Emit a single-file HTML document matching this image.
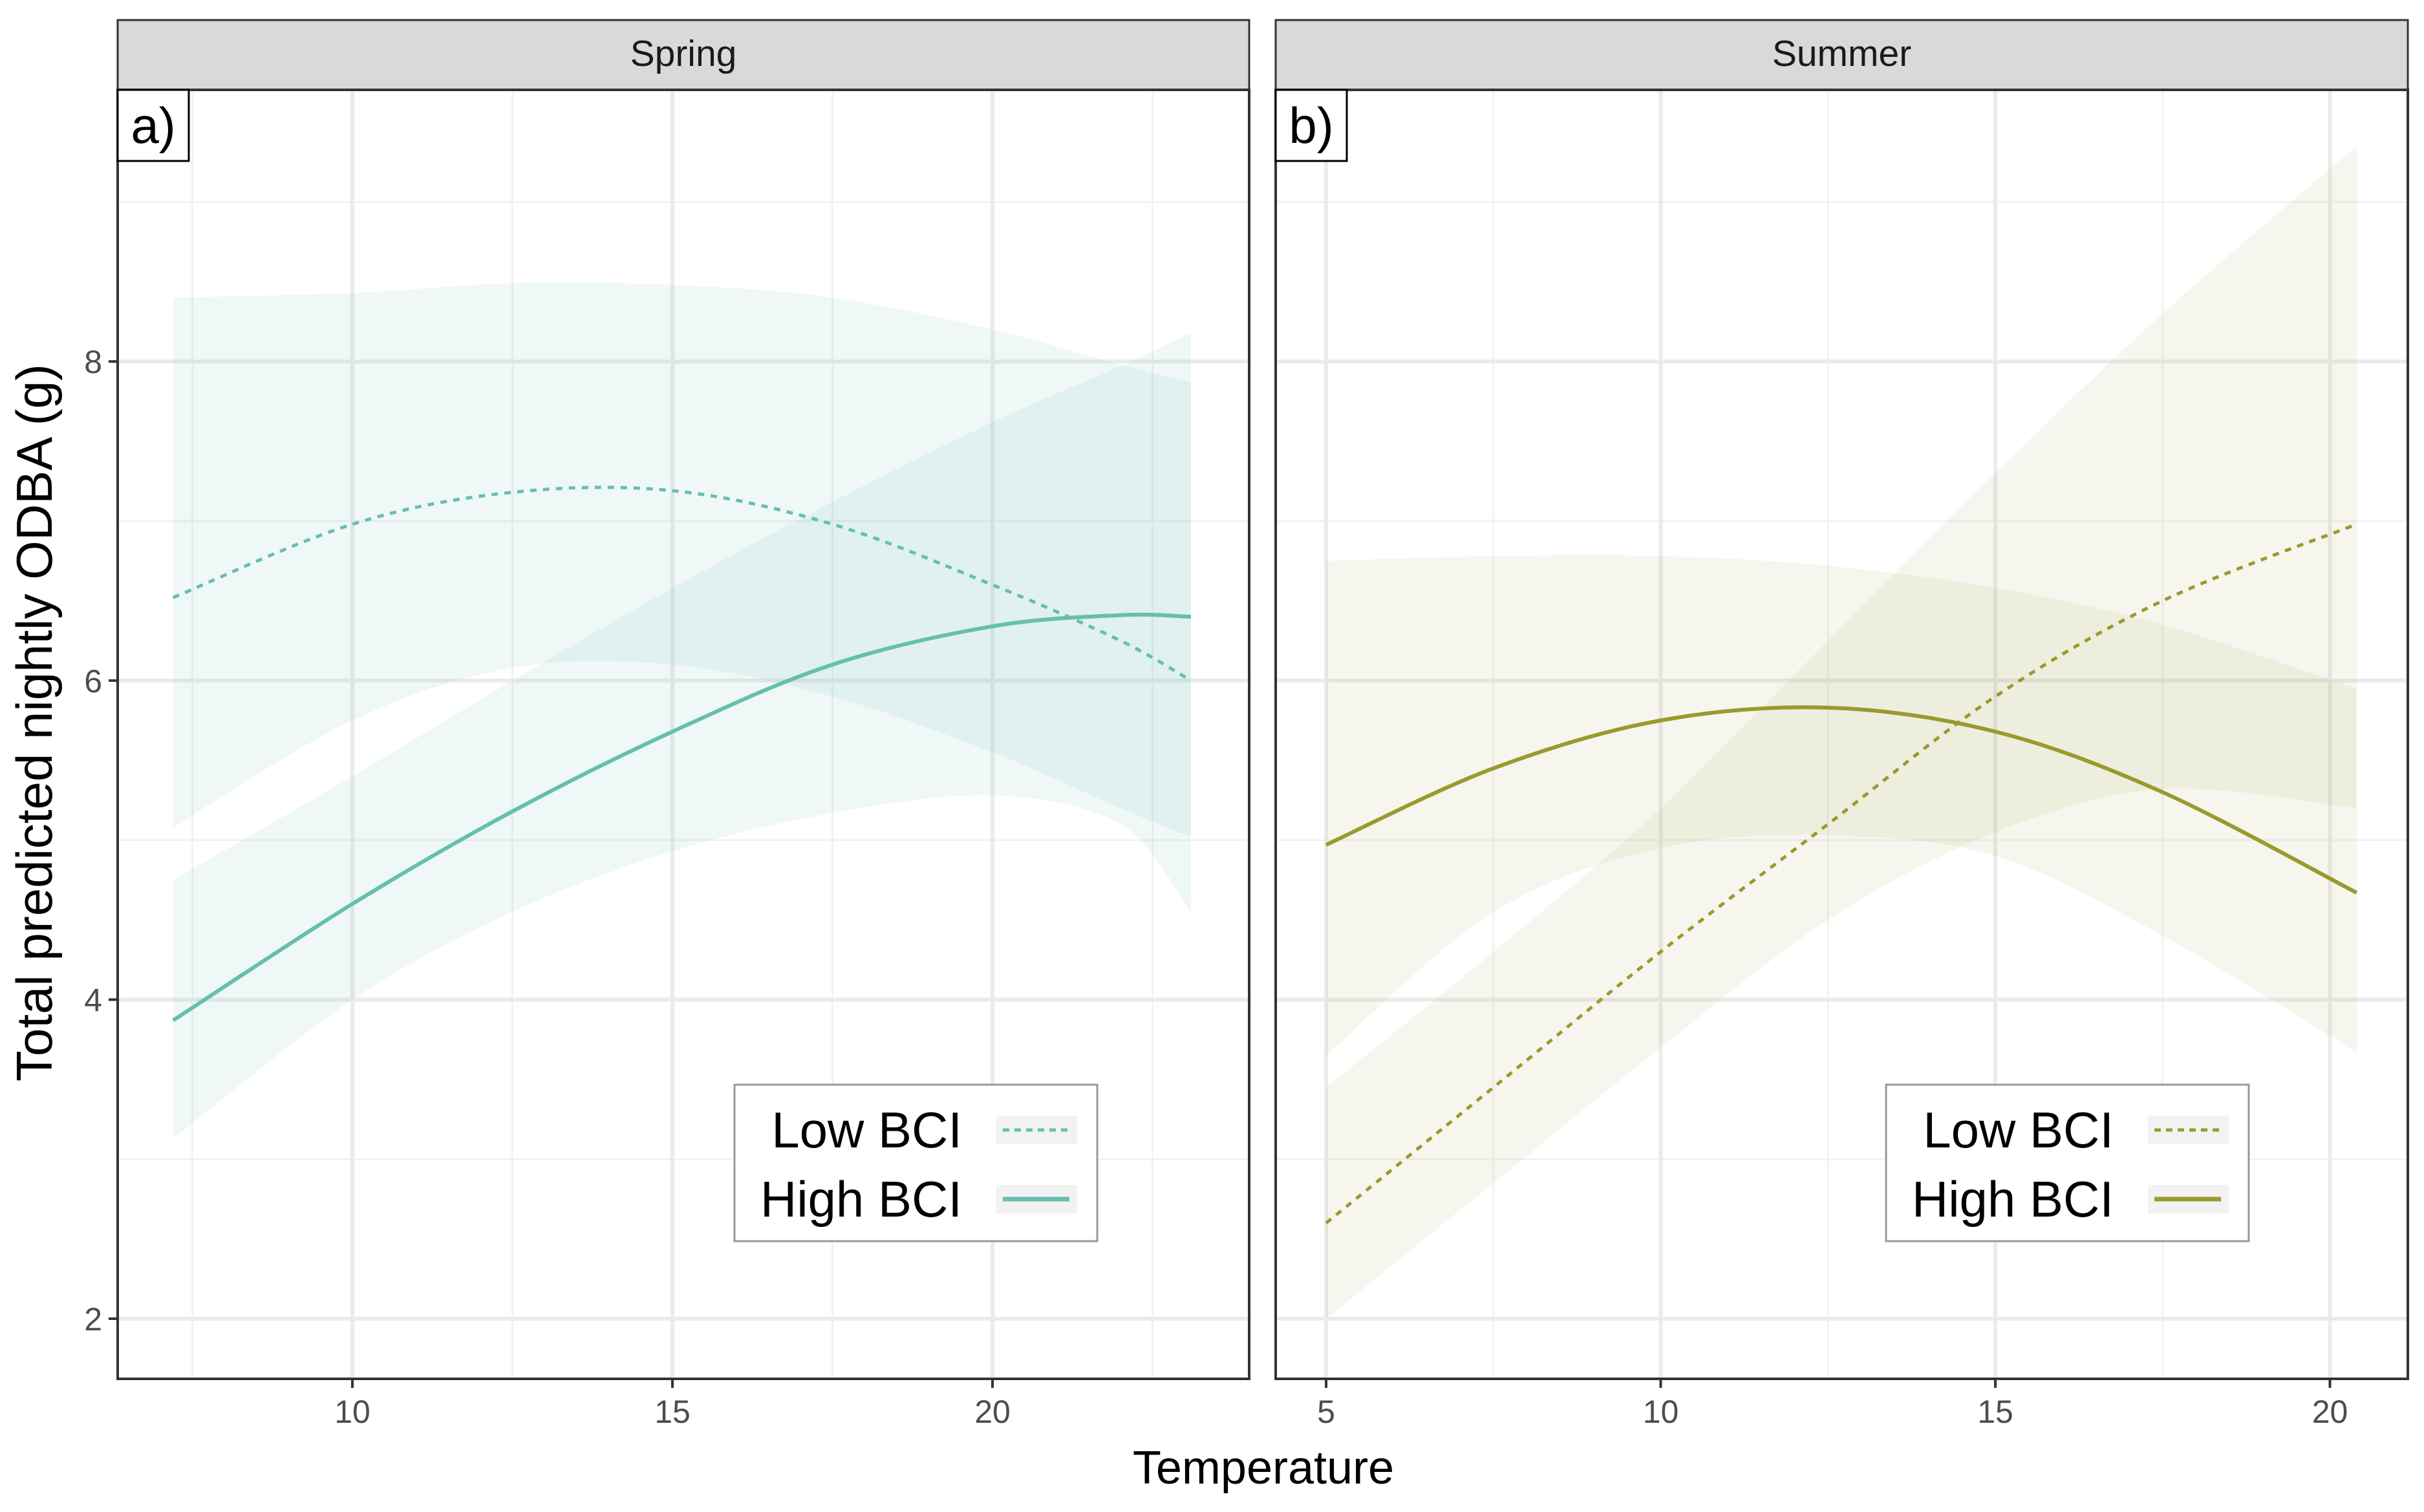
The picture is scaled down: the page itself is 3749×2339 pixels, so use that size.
<!DOCTYPE html>
<html><head><meta charset="utf-8"><style>
html,body{margin:0;padding:0;background:#fff;}
svg{display:block;font-family:"Liberation Sans",Arial,sans-serif;}
</style></head><body>
<svg id="chart" width="3749" height="2339" viewBox="0 0 3749 2339" xmlns="http://www.w3.org/2000/svg"></svg>
<script>
// ---- data ----
const yTicks = [2, 4, 6, 8];
const yMinor = [3, 5, 7, 9];
const springXTicks = [10, 15, 20];
const springXMinor = [7.5, 12.5, 17.5, 22.5];
const summerXTicks = [5, 10, 15, 20];
const summerXMinor = [7.5, 12.5, 17.5];

const springX = [7.2, 10, 12.5, 15, 17.5, 20, 22, 23.1];
const springLow = [6.52, 6.98, 7.18, 7.19, 6.98, 6.6, 6.25, 6.0];
const springLowUpper = [8.4, 8.43, 8.49, 8.48, 8.4, 8.2, 7.98, 7.87];
const springLowLower = [5.08, 5.75, 6.08, 6.1, 5.9, 5.55, 5.2, 5.02];
const springHigh = [3.87, 4.6, 5.18, 5.68, 6.1, 6.34, 6.41, 6.4];
const springHighUpper = [4.75, 5.4, 6.0, 6.58, 7.12, 7.62, 7.97, 8.18];
const springHighLower = [3.13, 4.0, 4.55, 4.93, 5.17, 5.28, 5.1, 4.55];

const summerX = [5, 7.5, 10, 12.5, 15, 17.5, 20.4];
const summerLow = [2.6, 3.45, 4.3, 5.1, 5.9, 6.5, 6.98];
const summerLowUpper = [3.45, 4.3, 5.2, 6.25, 7.3, 8.3, 9.35];
const summerLowLower = [2.0, 2.85, 3.7, 4.5, 5.05, 5.32, 5.2];
const summerHigh = [4.97, 5.45, 5.75, 5.83, 5.68, 5.3, 4.67];
const summerHighUpper = [6.75, 6.78, 6.78, 6.72, 6.58, 6.35, 5.95];
const summerHighLower = [3.65, 4.55, 4.95, 5.03, 4.9, 4.4, 3.67];

// ---- layout ----
const NS = "http://www.w3.org/2000/svg";
const svg = document.getElementById('chart');
function el(tag, attrs, parent){const e=document.createElementNS(NS,tag);for(const k in attrs)e.setAttribute(k,attrs[k]);(parent||svg).appendChild(e);return e;}
const plotTop = 139, plotBottom = 2133;
const yScale = v => 2040 - (v - 2) * 246.8;
const panels = [
  {key:'spring', left:182, right:1932, x0:10, px0:545, ppu:99.0, title:'Spring', tag:'a)', ticks:springXTicks, minor:springXMinor,
   color:'#66bfae', fill:'#66bfae', xs:springX,
   low:springLow, lowU:springLowUpper, lowL:springLowLower, high:springHigh, highU:springHighUpper, highL:springHighLower, legend:[1136,1678]},
  {key:'summer', left:1973, right:3724, x0:5, px0:2051, ppu:103.5, title:'Summer', tag:'b)', ticks:summerXTicks, minor:summerXMinor,
   color:'#9a9a2e', fill:'#a8a85a', xs:summerX,
   low:summerLow, lowU:summerLowUpper, lowL:summerLowLower, high:summerHigh, highU:summerHighUpper, highL:summerHighLower, legend:[2917,1678]}
];
function smooth(pts){ // catmull-rom
  let d='M'+pts[0][0]+','+pts[0][1];
  for(let i=0;i<pts.length-1;i++){
    const p0=pts[Math.max(0,i-1)],p1=pts[i],p2=pts[i+1],p3=pts[Math.min(pts.length-1,i+2)];
    const c1=[p1[0]+(p2[0]-p0[0])/6,p1[1]+(p2[1]-p0[1])/6];
    const c2=[p2[0]-(p3[0]-p1[0])/6,p2[1]-(p3[1]-p1[1])/6];
    d+=' C'+c1[0]+','+c1[1]+' '+c2[0]+','+c2[1]+' '+p2[0]+','+p2[1];
  }
  return d;
}
function smoothRev(pts){return smooth(pts).replace(/^M/,'L');}

panels.forEach(p=>{
  const xs = v => p.px0 + (v - p.x0) * p.ppu;
  const g = el('g',{});
  
  
  const strip = el('rect',{x:p.left,y:31,width:p.right-p.left,height:plotTop-31,fill:'#d9d9d9',stroke:'#333','stroke-width':3},g);
  
  
  const st = el('text',{x:(p.left+p.right)/2,y:102,'font-size':57,'text-anchor':'middle',fill:'#1a1a1a'},g);
  st.textContent=p.title;
  
  
  const clip = el('clipPath',{id:'clip-'+p.key},g);
  el('rect',{x:p.left,y:plotTop,width:p.right-p.left,height:plotBottom-plotTop},clip);
  yMinor.forEach(v=>{el('line',{x1:p.left,x2:p.right,y1:yScale(v),y2:yScale(v),stroke:'#f2f2f2','stroke-width':3},g);});
  p.minor.forEach(v=>{el('line',{x1:xs(v),x2:xs(v),y1:plotTop,y2:plotBottom,stroke:'#f2f2f2','stroke-width':3},g);});
  yTicks.forEach(v=>{el('line',{x1:p.left,x2:p.right,y1:yScale(v),y2:yScale(v),stroke:'#ebebeb','stroke-width':6},g);});
  p.ticks.forEach(v=>{el('line',{x1:xs(v),x2:xs(v),y1:plotTop,y2:plotBottom,stroke:'#ebebeb','stroke-width':6},g);});
  const dg = el('g',{'clip-path':'url(#clip-'+p.key+')'},g);
  [['low',p.lowU,p.lowL],['high',p.highU,p.highL]].forEach(([nm,u,l])=>{
    const up = p.xs.map((x,i)=>[xs(x),yScale(u[i])]);
    const lo = p.xs.map((x,i)=>[xs(x),yScale(l[i])]).reverse();
    const r = el('path',{d:smooth(up)+' '+smoothRev(lo)+' Z',fill:p.fill,'fill-opacity':0.1},dg);
    
    
  });
  const lowLine = el('path',{d:smooth(p.xs.map((x,i)=>[xs(x),yScale(p.low[i])])),fill:'none',stroke:p.color,'stroke-width':5,'stroke-dasharray':'10 10'},dg);
  
  
  const highLine = el('path',{d:smooth(p.xs.map((x,i)=>[xs(x),yScale(p.high[i])])),fill:'none',stroke:p.color,'stroke-width':6},dg);
  
  
  el('rect',{x:p.left,y:plotTop,width:p.right-p.left,height:plotBottom-plotTop,fill:'none',stroke:'#333','stroke-width':4},g);
  const tb = el('rect',{x:p.left,y:plotTop,width:110,height:110,fill:'#fff',stroke:'#000','stroke-width':3},g);
  
  
  const tt = el('text',{x:p.left+55,y:plotTop+82,'font-size':78,'text-anchor':'middle',fill:'#000'},g);
  tt.textContent=p.tag;
  
  
  p.ticks.forEach(v=>{
    el('line',{x1:xs(v),x2:xs(v),y1:plotBottom,y2:plotBottom+14,stroke:'#333','stroke-width':4},g);
    const t = el('text',{x:xs(v),y:plotBottom+68,'font-size':50,'text-anchor':'middle',fill:'#4d4d4d'},g);
    t.textContent=v;
    
    
  });
  const [lx,ly]=p.legend;
  const lg = el('g',{},g);
  
  
  el('rect',{x:lx,y:ly,width:561,height:242,fill:'#fff',stroke:'#999','stroke-width':3},lg);
  const lab=[['Low BCI','10 8',5,ly+70],['High BCI',null,7,ly+177]];
  lab.forEach(([txt,dash,w,yy])=>{
    const t=el('text',{x:lx+352,y:yy+27,'font-size':78,'text-anchor':'end',fill:'#000'},lg);
    t.textContent=txt;
    
    
    el('rect',{x:lx+405,y:yy-22,width:125,height:44,fill:'#f2f2f2'},lg);
    const a={x1:lx+415,x2:lx+518,y1:yy,y2:yy,stroke:p.color,'stroke-width':w};
    if(dash)a['stroke-dasharray']=dash;
    el('line',a,lg);
  });
});
yTicks.forEach(v=>{
  el('line',{x1:168,x2:182,y1:yScale(v),y2:yScale(v),stroke:'#333','stroke-width':4});
  const t=el('text',{x:158,y:yScale(v)+18,'font-size':50,'text-anchor':'end',fill:'#4d4d4d'});
  t.textContent=v;
  
  
});
const yt=el('text',{x:0,y:0,'font-size':78,'text-anchor':'middle',fill:'#000',transform:'translate(80,1118) rotate(-90)'});
yt.textContent='Total predicted nightly ODBA (g)';


const xt=el('text',{x:1954,y:2295,'font-size':72,'text-anchor':'middle',fill:'#000'});
xt.textContent='Temperature';


</script>
</body></html>
